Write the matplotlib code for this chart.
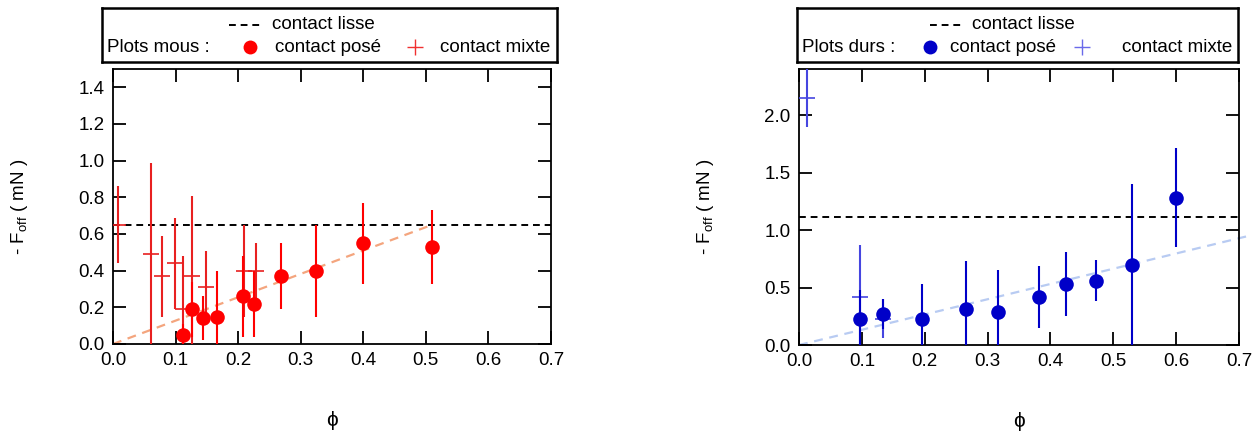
import numpy as np
import matplotlib
matplotlib.use('Agg')
import matplotlib.pyplot as plt

plt.rcParams['font.family'] = ['Liberation Sans', 'DejaVu Sans']
plt.rcParams['mathtext.fontset'] = 'custom'
plt.rcParams['mathtext.rm'] = 'Liberation Sans'
plt.rcParams['mathtext.it'] = 'Liberation Sans'

# plots mous (gauche)
pose_mous_phi = [0.112, 0.126, 0.144, 0.166, 0.208, 0.225, 0.269, 0.325, 0.40, 0.51]
pose_mous_F = [0.05, 0.19, 0.14, 0.15, 0.26, 0.22, 0.37, 0.40, 0.55, 0.53]
pose_mous_err = [0.06, 0.15, 0.12, 0.25, 0.22, 0.18, 0.18, 0.25, 0.22, 0.20]
mixte_mous_phi = [0.008, 0.060, 0.079, 0.099, 0.112, 0.126, 0.149, 0.210, 0.228]
mixte_mous_F = [0.65, 0.49, 0.37, 0.44, 0.19, 0.37, 0.31, 0.40, 0.40]
mixte_mous_err = [0.21, 0.50, 0.22, 0.25, 0.29, 0.44, 0.20, 0.25, 0.15]
lisse_mous = 0.65
fit_mous_x = [0.0, 0.51]
fit_mous_y = [0.0, 0.65]

# plots durs (droite)
pose_durs_phi = [0.097, 0.133, 0.196, 0.265, 0.316, 0.382, 0.424, 0.472, 0.53, 0.60]
pose_durs_F = [0.23, 0.27, 0.23, 0.31, 0.29, 0.42, 0.53, 0.56, 0.70, 1.28]
pose_durs_err = [0.25, 0.13, 0.30, 0.42, 0.36, 0.27, 0.28, 0.18, 0.70, 0.43]
mixte_durs_phi = [0.012, 0.097, 0.133]
mixte_durs_F = [2.15, 0.42, 0.23]
mixte_durs_err = [0.25, 0.45, 0.17]
lisse_durs = 1.11
fit_durs_x = [0.0, 0.72]
fit_durs_y = [0.0, 0.955]

FS = 13.5
W, H = 1257, 434
fig = plt.figure(figsize=(W / 100, H / 100), dpi=100)


def px(x0, y0, x1, y1):
    # rectangle en pixels -> coordonnees figure
    return [x0 / W, 1 - y1 / H, (x1 - x0) / W, (y1 - y0) / H]


def panneau(rect, pose, mixte, lisse, fit, c_pose, c_mixte, c_fit, ylim, yticks):
    ax = fig.add_axes(rect)
    ax.plot(fit[0], fit[1], ls=(0, (4, 3)), color=c_fit, lw=1.6, zorder=1, clip_on=False)
    ax.axhline(lisse, ls=(0, (3.5, 2.5)), color='black', lw=1.4, zorder=2)
    ax.errorbar(mixte[0], mixte[1], yerr=mixte[2], fmt='+', ms=11, mew=1.2,
                color=c_mixte, ecolor=c_mixte, elinewidth=1.5, capsize=0, zorder=3)
    ax.errorbar(pose[0], pose[1], yerr=pose[2], fmt='o', ms=10.5, mew=0,
                color=c_pose, ecolor=c_pose, elinewidth=1.5, capsize=0, zorder=4)
    ax.set_xlim(0, 0.7)
    ax.set_ylim(*ylim)
    ax.set_xticks(np.arange(0, 0.71, 0.1))
    ax.set_yticks(yticks)
    ax.xaxis.set_major_formatter('{x:.1f}')
    ax.yaxis.set_major_formatter('{x:.1f}')
    ax.tick_params(direction='in', length=9.5, width=1.3, top=True, right=True,
                   labelsize=FS, pad=6)
    for s in ax.spines.values():
        s.set_linewidth(1.3)
    ax.set_xlabel('ϕ', fontsize=15, labelpad=30)
    ax.set_ylabel('- F$_{\\rm off}$ ( mN )', fontsize=FS, labelpad=35)
    return ax


panneau(px(113, 69, 551, 344),
        (pose_mous_phi, pose_mous_F, pose_mous_err),
        (mixte_mous_phi, mixte_mous_F, mixte_mous_err),
        lisse_mous, (fit_mous_x, fit_mous_y),
        '#ff0000', '#e82020', '#f4a57e', (0, 1.5), np.arange(0, 1.41, 0.2))
panneau(px(799, 69, 1239, 345),
        (pose_durs_phi, pose_durs_F, pose_durs_err),
        (mixte_durs_phi, mixte_durs_F, mixte_durs_err),
        lisse_durs, (fit_durs_x, fit_durs_y),
        '#0000c8', '#4646e0', '#b8cbf2', (0, 2.4), np.arange(0, 2.01, 0.5))


def legende(x0, x1, nom, c_pose, c_mixte, pos):
    # pos : positions en pixels des elements (tirets, rond, texte pose, croix, texte mixte)
    lg = fig.add_axes(px(x0, 8, x1, 62))
    lg.set_xlim(x0, x1)
    lg.set_ylim(62, 8)
    lg.set_xticks([])
    lg.set_yticks([])
    for s in lg.spines.values():
        s.set_linewidth(1.8)
    d0, d1, tl, cp, tp, cm, tm = pos
    lg.plot([d0, d1], [25, 25], color='black', ls=(0, (3.5, 2.5)), lw=1.4)
    lg.text(tl, 25, 'contact lisse', fontsize=FS, va='center')
    lg.text(x0 + 5, 47, nom, fontsize=FS, va='center')
    lg.plot(cp, 47, 'o', ms=10, mew=0, color=c_pose)
    lg.text(tp, 47, 'contact posé', fontsize=FS, va='center')
    lg.plot(cm, 47, '+', ms=11, mew=1.0, color=c_mixte)
    lg.text(tm, 47, 'contact mixte', fontsize=FS, va='center')


legende(102, 557, 'Plots mous :', '#ff0000', '#f03030',
        (229, 263, 272, 250, 275, 415, 440))
legende(797, 1238, 'Plots durs :', '#0000c8', '#6a6aea',
        (930, 962, 972, 930, 950, 1082, 1122))

fig.savefig('out.png', dpi=100)
